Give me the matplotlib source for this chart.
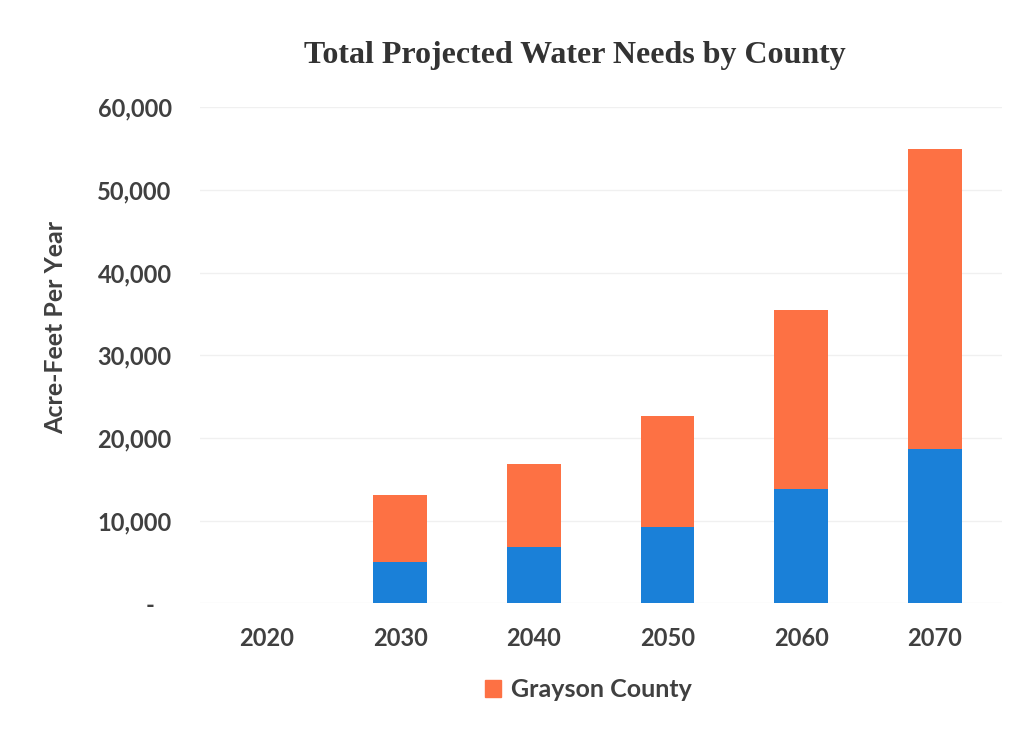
import numpy as np
import matplotlib.pyplot as plt
from matplotlib.patches import Patch

years = ["2020", "2030", "2040", "2050", "2060", "2070"]
blue_part = [0, 5000, 6800, 9200, 13800, 18700]
grayson = [0, 8100, 10050, 13500, 21700, 36200]
y_ticks = [0, 10000, 20000, 30000, 40000, 50000, 60000]
y_labels = ["-   ", "10,000", "20,000", "30,000", "40,000", "50,000", "60,000"]

blue = "#1a80d8"
orange = "#fd7144"
text_col = "#404040"

fig = plt.figure(figsize=(10.18, 7.34), dpi=100)
ax = fig.add_axes([0.196, 0.178, 0.788, 0.676])

x = np.arange(len(years))
ax.bar(x, blue_part, width=0.4, color=blue, zorder=3)
ax.bar(x, grayson, width=0.4, bottom=blue_part, color=orange, zorder=3)

ax.set_xlim(-0.5, len(years) - 0.5)
ax.set_ylim(0, 60000)
ax.set_yticks(y_ticks)
ax.set_yticklabels(y_labels)
ax.set_xticks(x)
ax.set_xticklabels(years)
ax.grid(axis="y", color="#f0f0f0", linewidth=1, zorder=0)
for s in ax.spines.values():
    s.set_visible(False)
ax.tick_params(length=0, labelsize=17, labelcolor=text_col, pad=17)
ax.tick_params(axis="y", pad=20)
for lab in ax.get_xticklabels() + ax.get_yticklabels():
    lab.set_family("Lato")
    lab.set_fontweight("bold")

# axis title sits a bit above the middle of the axes
fig.text(56 / 1018, 1 - 327 / 734, "Acre-Feet Per Year", rotation=90,
         ha="center", va="center", fontsize=18, color=text_col,
         family="Lato", fontweight="bold")

fig.text(0.565, 0.925, "Total Projected Water Needs by County",
         ha="center", va="center", family="Liberation Serif",
         fontweight="bold", fontsize=23, color="#333333")

fig.legend(handles=[Patch(color=orange, label="Grayson County")],
           loc="center", bbox_to_anchor=(0.578, 0.06), frameon=False,
           handlelength=0.65, handleheight=0.65, handletextpad=0.4,
           prop={"family": "Lato", "weight": "bold", "size": 18},
           labelcolor=text_col)

fig.savefig("out.png", dpi=100, facecolor="white")
